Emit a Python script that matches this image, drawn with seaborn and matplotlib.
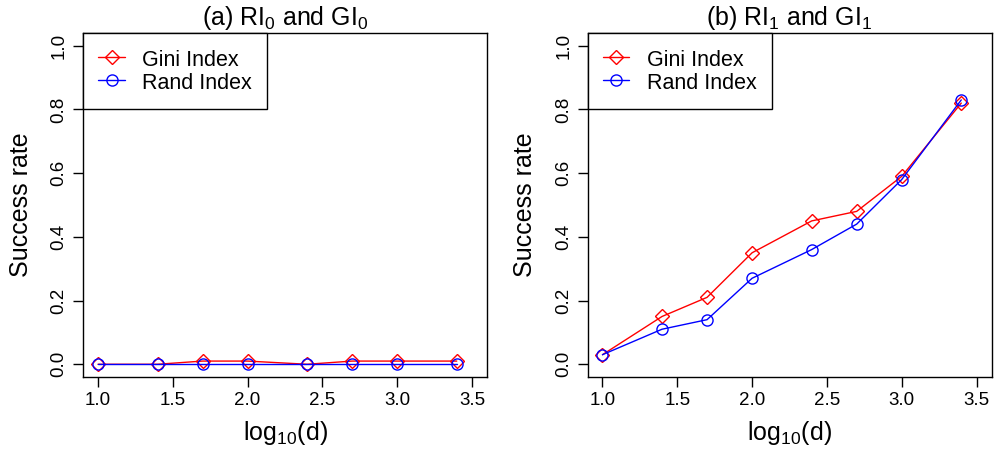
import matplotlib
matplotlib.use("Agg")
import matplotlib.pyplot as plt
import seaborn as sns
import pandas as pd

log10_d = [1.0, 1.398, 1.699, 2.0, 2.398, 2.699, 3.0, 3.398]
gini_a = [0.0, 0.0, 0.01, 0.01, 0.0, 0.01, 0.01, 0.01]
rand_a = [0.0, 0.0, 0.0, 0.0, 0.0, 0.0, 0.0, 0.0]
gini_b = [0.03, 0.15, 0.21, 0.35, 0.45, 0.48, 0.59, 0.82]
rand_b = [0.03, 0.11, 0.14, 0.27, 0.36, 0.44, 0.58, 0.83]
titles = ["(a) RI$_0$ and GI$_0$", "(b) RI$_1$ and GI$_1$"]
xticks = [1.0, 1.5, 2.0, 2.5, 3.0, 3.5]
yticks = [0.0, 0.2, 0.4, 0.6, 0.8, 1.0]

sns.set_style("white")
plt.rcParams['font.family'] = ['Liberation Sans', 'DejaVu Sans']
plt.rcParams['mathtext.fontset'] = 'custom'
plt.rcParams['mathtext.rm'] = 'Liberation Sans'
plt.rcParams['text.color'] = 'black'
plt.rcParams['axes.labelcolor'] = 'black'

fig = plt.figure(figsize=(9.97, 4.5), dpi=100)
lefts = [83 / 997, 587.5 / 997]
w = 404 / 997
bottom = 1 - 377 / 450
h = (377 - 33) / 450

for i, (g, r) in enumerate([(gini_a, rand_a), (gini_b, rand_b)]):
    ax = fig.add_axes([lefts[i], bottom, w, h])
    df = pd.DataFrame({"x": log10_d, "gini": g, "rand": r})
    sns.lineplot(data=df, x="x", y="gini", ax=ax, color="red", lw=1,
                 marker="D", markersize=7, markerfacecolor="none",
                 markeredgecolor="red", markeredgewidth=1, label="Gini Index")
    sns.lineplot(data=df, x="x", y="rand", ax=ax, color="blue", lw=1,
                 marker="o", markersize=8, markerfacecolor="none",
                 markeredgecolor="blue", markeredgewidth=1, label="Rand Index")
    ax.set_xlim(0.9, 3.6)
    ax.set_ylim(-0.04, 1.04)
    ax.set_xticks(xticks)
    ax.set_xticklabels([f"{t:.1f}" for t in xticks])
    ax.set_yticks(yticks)
    ax.set_yticklabels([f"{t:.1f}" for t in yticks], rotation=90, va="center")
    ax.tick_params(axis="both", direction="out", length=7, width=1,
                   labelsize=13.5, colors="black", pad=4, left=True, bottom=True)
    for s in ax.spines.values():
        s.set_visible(True)
        s.set_color("black")
        s.set_linewidth(1)
    ax.set_xlabel("log$_{10}$(d)", fontsize=18, labelpad=7, color="black")
    ax.set_ylabel("Success rate", fontsize=18, labelpad=13, color="black")
    ax.set_title(titles[i], fontsize=18, pad=6, color="black")
    leg = ax.legend(loc="upper left", borderaxespad=0, fancybox=False,
                    edgecolor="black", framealpha=1, fontsize=15.5,
                    handlelength=1.25, handletextpad=0.8, borderpad=0.7,
                    handleheight=1.15, labelspacing=0.0)
    leg.get_frame().set_linewidth(1)
    for t in leg.get_texts():
        t.set_color("black")

fig.savefig("out.png", dpi=100)
